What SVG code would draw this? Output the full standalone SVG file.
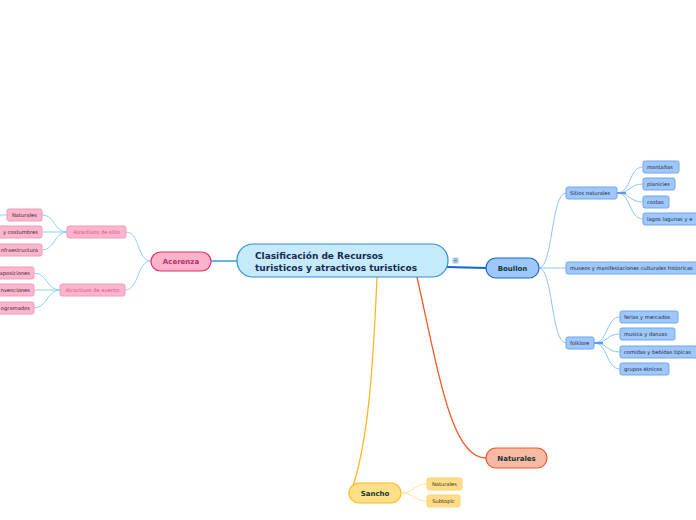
<svg xmlns="http://www.w3.org/2000/svg" width="696" height="520" viewBox="0 0 696 520">
<style>
text{font-family:"DejaVu Sans","Verdana",sans-serif}
.c{fill:none}
.lb{stroke:#8cc4f5;stroke-width:1}
.lp{stroke:#86d3f3;stroke-width:1}
.ly{stroke:#ffe29a;stroke-width:1}
.leafb rect{fill:#9fc7fa;stroke:#6ea6f2;stroke-width:1}
.leafb text{font-size:5.2px;fill:#1b2a40}
.leafp rect{fill:#fbb5cd;stroke:#f59abd;stroke-width:1}
.leafp text{font-size:5.2px;fill:#3a2a35}
.subp rect{fill:#fbb5cd;stroke:#f59abd;stroke-width:1}
.subp text{font-size:5.2px;fill:#e0508a}
.leafy rect{fill:#ffdd88;stroke:#ffd070;stroke-width:1}
.leafy text{font-size:5.2px;fill:#3a3020}
.main text{font-size:7px;font-weight:bold;text-anchor:middle}
</style>
<g id="connectors">
<path class="c" d="M237,261 L211,261" stroke="#30a0e0" stroke-width="1.5"/>
<path class="c" d="M446,267 L486,268" stroke="#1565d0" stroke-width="1.8"/>
<path class="c" d="M377,277 C373,370 368,440 353,486" stroke="#ffb820" stroke-width="1.3"/>
<path class="c" d="M417,277 C440,380 452,458 486,458" stroke="#f35a25" stroke-width="1.3"/>
<path class="c lb" d="M539,268 C553,268 551,193 566,193"/>
<path class="c lb" d="M539,268 C553,268 552,268 566,268"/>
<path class="c lb" d="M539,268 C553,268 551,343 566,343"/>
<path class="c lb" d="M617,193 C631,193 629,167 643,167"/>
<path class="c lb" d="M617,193 C631,193 629,184 643,184"/>
<path class="c lb" d="M617,193 C631,193 629,202 643,202"/>
<path class="c lb" d="M617,193 C631,193 629,219 643,219"/>
<path class="c" d="M617,193 L626,193" stroke="#5a9cf0" stroke-width="2"/>
<path class="c lb" d="M594,343 C608,343 606,317 620,317"/>
<path class="c lb" d="M594,343 C608,343 606,334 620,334"/>
<path class="c lb" d="M594,343 C608,343 606,352 620,352"/>
<path class="c lb" d="M594,343 C608,343 606,369 620,369"/>
<path class="c" d="M594,343 L603,343" stroke="#5a9cf0" stroke-width="2"/>
<path class="c lp" d="M151,261 C137,261 140,232 126,232"/>
<path class="c lp" d="M151,261 C137,261 139,290 125,290"/>
<path class="c lp" d="M67,232 C54,232 55,215 42,215"/>
<path class="c lp" d="M67,232 L42,232"/>
<path class="c lp" d="M67,232 C54,232 55,250 42,250"/>
<path class="c lp" d="M0,215 L7,215"/>
<path class="c lp" d="M60,290 C47,290 47,273 34,273"/>
<path class="c lp" d="M60,290 L34,290"/>
<path class="c lp" d="M60,290 C47,290 47,308 34,308"/>
<path class="c ly" d="M401,493 C414,493 414,484 427,484"/>
<path class="c ly" d="M401,493 C414,493 414,501 427,501"/>
</g>
<g id="central">
<rect x="237" y="244" width="211" height="33" rx="16" fill="#c5eafc" stroke="#2d8fd6" stroke-width="1.2"/>
<text x="255" y="259" font-size="9" font-weight="bold" fill="#152a4e">Clasificación de Recursos</text>
<text x="255" y="271" font-size="9" font-weight="bold" fill="#152a4e">turisticos y atractivos turisticos</text>
</g>
<g id="icon">
<rect x="452" y="257" width="7" height="7" rx="1" fill="#cfe6fb"/>
<path d="M453.5,259 h4 M453.5,260.5 h4 M453.5,262 h4" stroke="#2b5a9a" stroke-width="0.6"/>
</g>
<g id="boullon" class="main">
<rect x="486" y="258" width="53" height="20" rx="10" fill="#9ec7fb" stroke="#1668d4" stroke-width="1.2"/>
<text x="512.5" y="270.5" fill="#103a30">Boullon</text>
</g>
<g id="acerenza" class="main">
<rect x="151" y="252" width="60" height="19" rx="9.5" fill="#fbb3cc" stroke="#e2306c" stroke-width="1.2"/>
<text x="181" y="264" fill="#b42f68">Acerenza</text>
</g>
<g id="naturales-main" class="main">
<rect x="486" y="448" width="61" height="20" rx="10" fill="#f9b9a5" stroke="#f05a28" stroke-width="1.2"/>
<text x="516.5" y="460.5" fill="#103a30">Naturales</text>
</g>
<g id="sancho" class="main">
<rect x="349" y="483" width="52" height="20" rx="10" fill="#ffdf88" stroke="#f8bc22" stroke-width="1.2"/>
<text x="375" y="495.5" fill="#103a30">Sancho</text>
</g>
<g id="sitios-naturales" class="leafb"><rect x="566" y="187" width="51" height="12" rx="2"/><text x="570" y="195">Sitios naturales</text></g>
<g id="museos" class="leafb"><rect x="566" y="262" width="140" height="12" rx="2"/><text x="570" y="270">museos y manifestaciones culturales historicas</text></g>
<g id="folklore" class="leafb"><rect x="566" y="337" width="28" height="12" rx="2"/><text x="570" y="345">folklore</text></g>
<g id="montanas" class="leafb"><rect x="643" y="161" width="36" height="12" rx="2"/><text x="647" y="169">montañas</text></g>
<g id="planicies" class="leafb"><rect x="643" y="178" width="32" height="12" rx="2"/><text x="647" y="186">planicies</text></g>
<g id="costas" class="leafb"><rect x="643" y="196" width="26" height="12" rx="2"/><text x="647" y="204">costas</text></g>
<g id="lagos" class="leafb"><rect x="643" y="213" width="70" height="12" rx="2"/><text x="647" y="221">lagos lagunas y e</text></g>
<g id="ferias" class="leafb"><rect x="620" y="311" width="58" height="12" rx="2"/><text x="624" y="319">ferias y mercados</text></g>
<g id="musica" class="leafb"><rect x="620" y="328" width="55" height="12" rx="2"/><text x="624" y="336">musica y danzas</text></g>
<g id="comidas" class="leafb"><rect x="620" y="346" width="80" height="12" rx="2"/><text x="624" y="354">comidas y bebidas tipicas</text></g>
<g id="grupos" class="leafb"><rect x="620" y="363" width="49" height="12" rx="2"/><text x="624" y="371">grupos étnicos</text></g>
<g id="atractivos-sitio" class="subp"><rect x="67" y="226" width="59" height="12" rx="2"/><text x="96.5" y="234" text-anchor="middle">Atractivos de sitio</text></g>
<g id="atractivos-evento" class="subp"><rect x="60" y="284" width="65" height="12" rx="2"/><text x="92.5" y="292" text-anchor="middle">Atractivos de evento</text></g>
<g id="naturales-a" class="leafp"><rect x="7" y="209" width="35" height="12" rx="2"/><text x="24.5" y="217" text-anchor="middle">Naturales</text></g>
<g id="costumbres" class="leafp"><rect x="-20" y="226" width="62" height="12" rx="2"/><text x="38" y="234" text-anchor="end">y costumbres</text></g>
<g id="infraestructura" class="leafp"><rect x="-20" y="244" width="62" height="12" rx="2"/><text x="38" y="252" text-anchor="end">nfraestructura</text></g>
<g id="exposiciones" class="leafp"><rect x="-20" y="267" width="54" height="12" rx="2"/><text x="30" y="275" text-anchor="end">xposiciones</text></g>
<g id="convenciones" class="leafp"><rect x="-20" y="284" width="54" height="12" rx="2"/><text x="30" y="292" text-anchor="end">nvenciones</text></g>
<g id="programados" class="leafp"><rect x="-20" y="302" width="54" height="12" rx="2"/><text x="30" y="310" text-anchor="end">ogramados</text></g>
<g id="naturales-s" class="leafy"><rect x="427" y="478" width="35" height="12" rx="2"/><text x="444.5" y="486" text-anchor="middle">Naturales</text></g>
<g id="subtopic" class="leafy"><rect x="427" y="495" width="33" height="12" rx="2"/><text x="443.5" y="503" text-anchor="middle">Subtopic</text></g>
</svg>
